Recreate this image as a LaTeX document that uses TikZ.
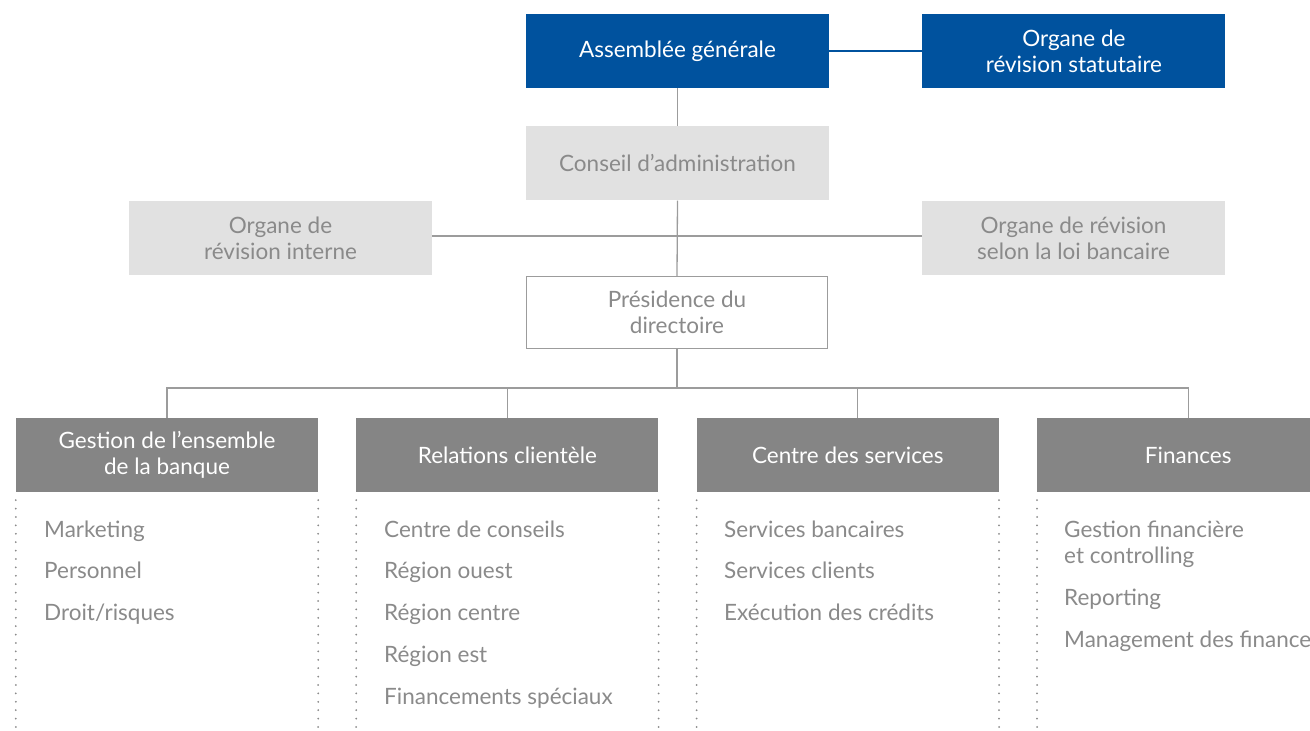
\documentclass[tikz,border=0pt]{standalone}
\usepackage{fontspec}
\setmainfont{Lato}
\usepackage{tikz}
\usetikzlibrary{positioning}
\definecolor{org_blue}{HTML}{00529E}
\definecolor{org_light}{HTML}{E1E1E1}
\definecolor{org_dark}{HTML}{858585}
\definecolor{org_text}{HTML}{8A8A8A}
\definecolor{org_line}{HTML}{9C9C9C}
\tikzstyle{line} = [draw, org_line, line width=1.3pt]
\tikzstyle{dots} = [draw, org_text, line width=2pt, line cap=round, dash pattern=on 0pt off 8.4pt]
\tikzstyle{top_box} = [rectangle, fill=org_blue, text=white, minimum width=303pt, minimum height=74pt, inner sep=0pt, align=center, font=\fontsize{22.5}{26}\selectfont]
\tikzstyle{board_box} = [rectangle, fill=org_light, text=org_text, minimum width=303pt, minimum height=74pt, inner sep=0pt, align=center, font=\fontsize{22.5}{26}\selectfont]
\tikzstyle{pres_box} = [rectangle, draw=org_line, line width=1.3pt, fill=white, text=org_text, minimum width=301pt, minimum height=72pt, inner sep=0pt, align=center, font=\fontsize{22.5}{26}\selectfont]
\tikzstyle{dept_box} = [rectangle, fill=org_dark, text=white, minimum width=302pt, minimum height=74pt, inner sep=0pt, align=center, font=\fontsize{22.5}{26}\selectfont]
\tikzstyle{item} = [anchor=base west, inner sep=0pt, text=org_text, align=left, font=\fontsize{22.5}{26}\selectfont]

\begin{document}
\begin{tikzpicture}[x=1pt, y=1pt]
		\useasboundingbox (0,0) rectangle (1310,731);

		% direction
		\node[top_box] at (677.5,680) (AG) {Assemblée générale};
		\node[top_box, right=93pt of AG] (ORS) {Organe de\\révision statutaire};
		\path [line, org_blue] (AG.east) to (ORS.west);

		\node[board_box, below=38pt of AG] (CA) {Conseil d’administration};
		\path [line] (AG.south) to (CA.north);

		\node[board_box] at (280.5,493) (ORI) {Organe de\\révision interne};
		\node[board_box] at (1073.5,493) (ORLB) {Organe de révision\\selon la loi bancaire};
		\path [line] ([yshift=2pt]ORI.east) to ([yshift=2pt]ORLB.west);

		\node[pres_box] at (677,418.5) (PD) {Présidence du\\directoire};
		\path [line] (CA.south) to (PD.north);

		% departements
		\node[dept_box] at (167,276) (GB) {Gestion de l’ensemble\\de la banque};
		\node[dept_box, right=38pt of GB] (RC) {Relations clientèle};
		\node[dept_box, right=38pt of RC] (CS) {Centre des services};
		\node[dept_box, right=38pt of CS] (FI) {Finances};

		\coordinate (bus) at (677,343);
		\path [line] (PD.south) to (bus);
		\path [line] (GB.north) |- (bus) -| (FI.north);
		\path [line] (RC.north) to (RC.north |- bus);
		\path [line] ([xshift=10pt]CS.north) to ([xshift=10pt]CS.north |- bus);

		\path [dots] ([yshift=-8pt]GB.south west) to (GB.west |- 0,0);
		\path [dots] ([yshift=-8pt]GB.south east) to (GB.east |- 0,0);
		\path [dots] ([yshift=-8pt]RC.south west) to (RC.west |- 0,0);
		\path [dots] ([yshift=-8pt]RC.south east) to (RC.east |- 0,0);
		\path [dots] ([yshift=-8pt]CS.south west) to (CS.west |- 0,0);
		\path [dots] ([yshift=-8pt]CS.south east) to (CS.east |- 0,0);
		\path [dots] ([yshift=-8pt]FI.south west) to (FI.west |- 0,0);

		% sous-unites
		\node[item] at (44,193) (GB_1) {Marketing};
		\node[item] at (44,152) (GB_2) {Personnel};
		\node[item] at (44,110) (GB_3) {Droit/risques};

		\node[item] at (384,193) (RC_1) {Centre de conseils};
		\node[item] at (384,152) (RC_2) {Région ouest};
		\node[item] at (384,110) (RC_3) {Région centre};
		\node[item] at (384,68) (RC_4) {Région est};
		\node[item] at (384,26) (RC_5) {Financements spéciaux};

		\node[item] at (724,193) (CS_1) {Services bancaires};
		\node[item] at (724,152) (CS_2) {Services clients};
		\node[item] at (724,110) (CS_3) {Exécution des crédits};

		\node[item] at (1064,167) (FI_1) {Gestion financière\\et controlling};
		\node[item] at (1064,125) (FI_2) {Reporting};
		\node[item] at (1064,83) (FI_3) {Management des finances};
	\end{tikzpicture}
\end{document}
